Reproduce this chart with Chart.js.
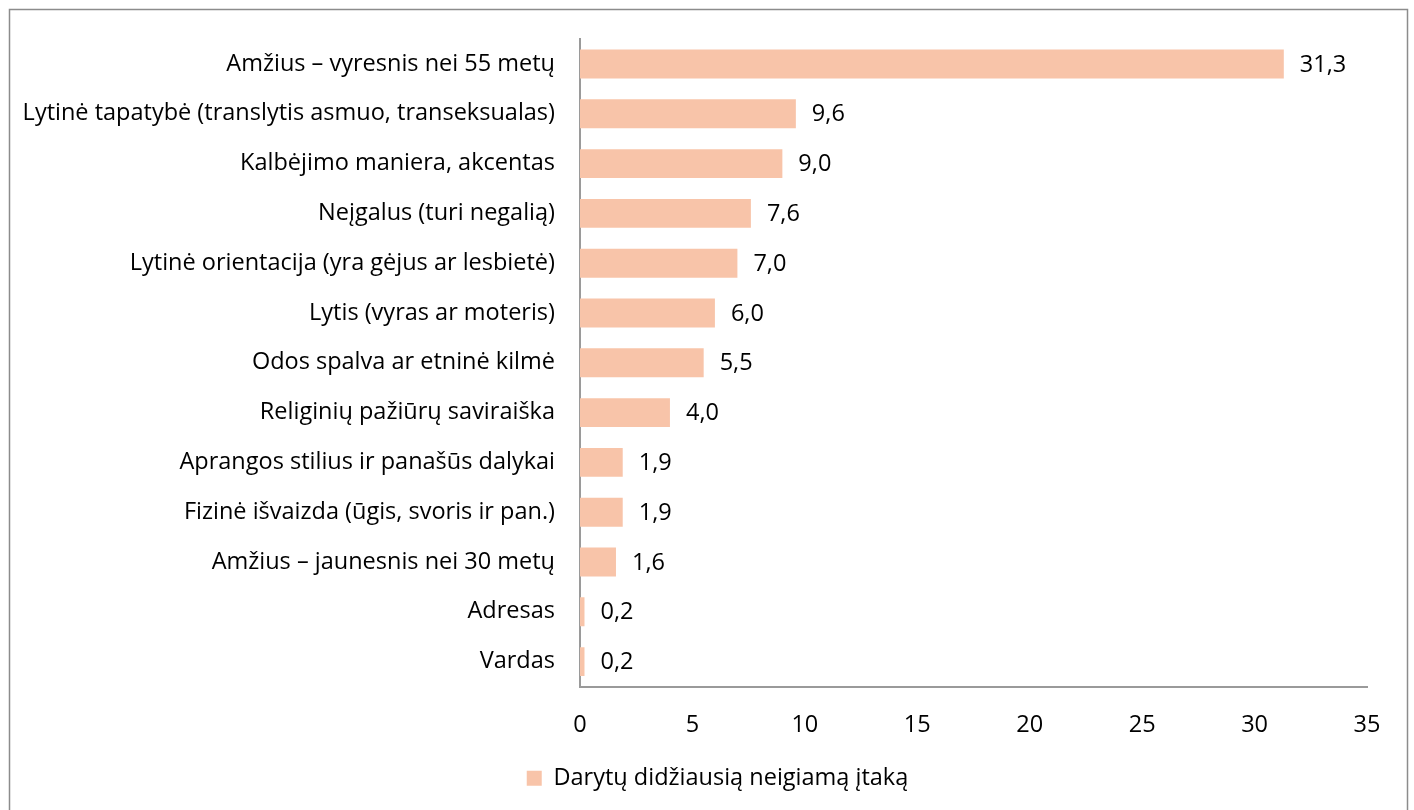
<!DOCTYPE html>
<html>
<head>
<meta charset="utf-8">
<script src="https://cdn.jsdelivr.net/npm/chart.js@4"></script>
<style>
html,body{margin:0;padding:0;background:#fff;overflow:hidden;}
#wrap{position:absolute;left:0;top:0;width:1414px;height:810px;}
</style>
</head>
<body>
<div id="wrap"><canvas id="c" width="1414" height="810"></canvas></div>
<script>
const categories = [
  "Amžius – vyresnis nei 55 metų",
  "Lytinė tapatybė (translytis asmuo, transeksualas)",
  "Kalbėjimo maniera, akcentas",
  "Neįgalus (turi negalią)",
  "Lytinė orientacija (yra gėjus ar lesbietė)",
  "Lytis (vyras ar moteris)",
  "Odos spalva ar etninė kilmė",
  "Religinių pažiūrų saviraiška",
  "Aprangos stilius ir panašūs dalykai",
  "Fizinė išvaizda (ūgis, svoris ir pan.)",
  "Amžius – jaunesnis nei 30 metų",
  "Adresas",
  "Vardas"
];
const values = [31.3, 9.6, 9.0, 7.6, 7.0, 6.0, 5.5, 4.0, 1.9, 1.9, 1.6, 0.2, 0.2];
const seriesName = "Darytų didžiausią neigiamą įtaką";
const xMin = 0, xMax = 35, xStep = 5;

const FONT = "'Open Sans', 'Noto Sans', sans-serif";
const FS = 23.5;
const fmt = v => v.toFixed(1).replace('.', ',');

const borderPlugin = {
  id: 'frame',
  beforeDraw(chart) {
    const ctx = chart.ctx;
    ctx.save();
    ctx.strokeStyle = '#8c8c8c';
    ctx.lineWidth = 1.5;
    ctx.strokeRect(9.5, 9.5, 1398, 900);
    ctx.restore();
  }
};

const legendShift = {
  id: 'legendShift',
  afterLayout(chart) {
    if (chart.legend) {
      chart.legend.left += 34;
      chart.legend.right += 34;
    }
  }
};

const valueLabels = {
  id: 'valueLabels',
  afterDatasetsDraw(chart) {
    const ctx = chart.ctx;
    const meta = chart.getDatasetMeta(0);
    ctx.save();
    ctx.font = FS + "px " + FONT;
    ctx.fillStyle = '#000';
    ctx.textBaseline = 'middle';
    ctx.textAlign = 'left';
    meta.data.forEach((bar, i) => {
      ctx.fillText(fmt(values[i]), bar.x + 16, bar.y + 1);
    });
    ctx.restore();
  }
};

new Chart(document.getElementById('c'), {
  type: 'bar',
  data: {
    labels: categories,
    datasets: [{
      label: seriesName,
      data: values,
      backgroundColor: '#F8C4A9',
      borderWidth: 0,
      categoryPercentage: 1,
      barPercentage: 0.58
    }]
  },
  options: {
    indexAxis: 'y',
    responsive: false,
    animation: false,
    devicePixelRatio: 1,
    layout: { padding: { top: 39, right: 47, left: 0, bottom: 10 } },
    scales: {
      x: {
        min: xMin, max: xMax,
        ticks: { stepSize: xStep, color: '#000', font: { family: FONT, size: FS }, padding: 25 },
        grid: { display: false, drawTicks: false },
        border: { display: true, color: '#9a9a9a', width: 2 },
        afterFit(s) { s.height = 72; }
      },
      y: {
        ticks: { color: '#000', font: { family: FONT, size: FS }, padding: 25, autoSkip: false },
        grid: { display: false, drawTicks: false },
        border: { display: true, color: '#9a9a9a', width: 2 },
        afterFit(s) { s.width = 580; }
      }
    },
    plugins: {
      legend: {
        position: 'bottom',
        labels: {
          color: '#000',
          font: { family: FONT, size: FS },
          boxWidth: 15, boxHeight: 15,
          padding: 8
        }
      },
      tooltip: { enabled: false }
    }
  },
  plugins: [borderPlugin, legendShift, valueLabels]
});
</script>
</body>
</html>
